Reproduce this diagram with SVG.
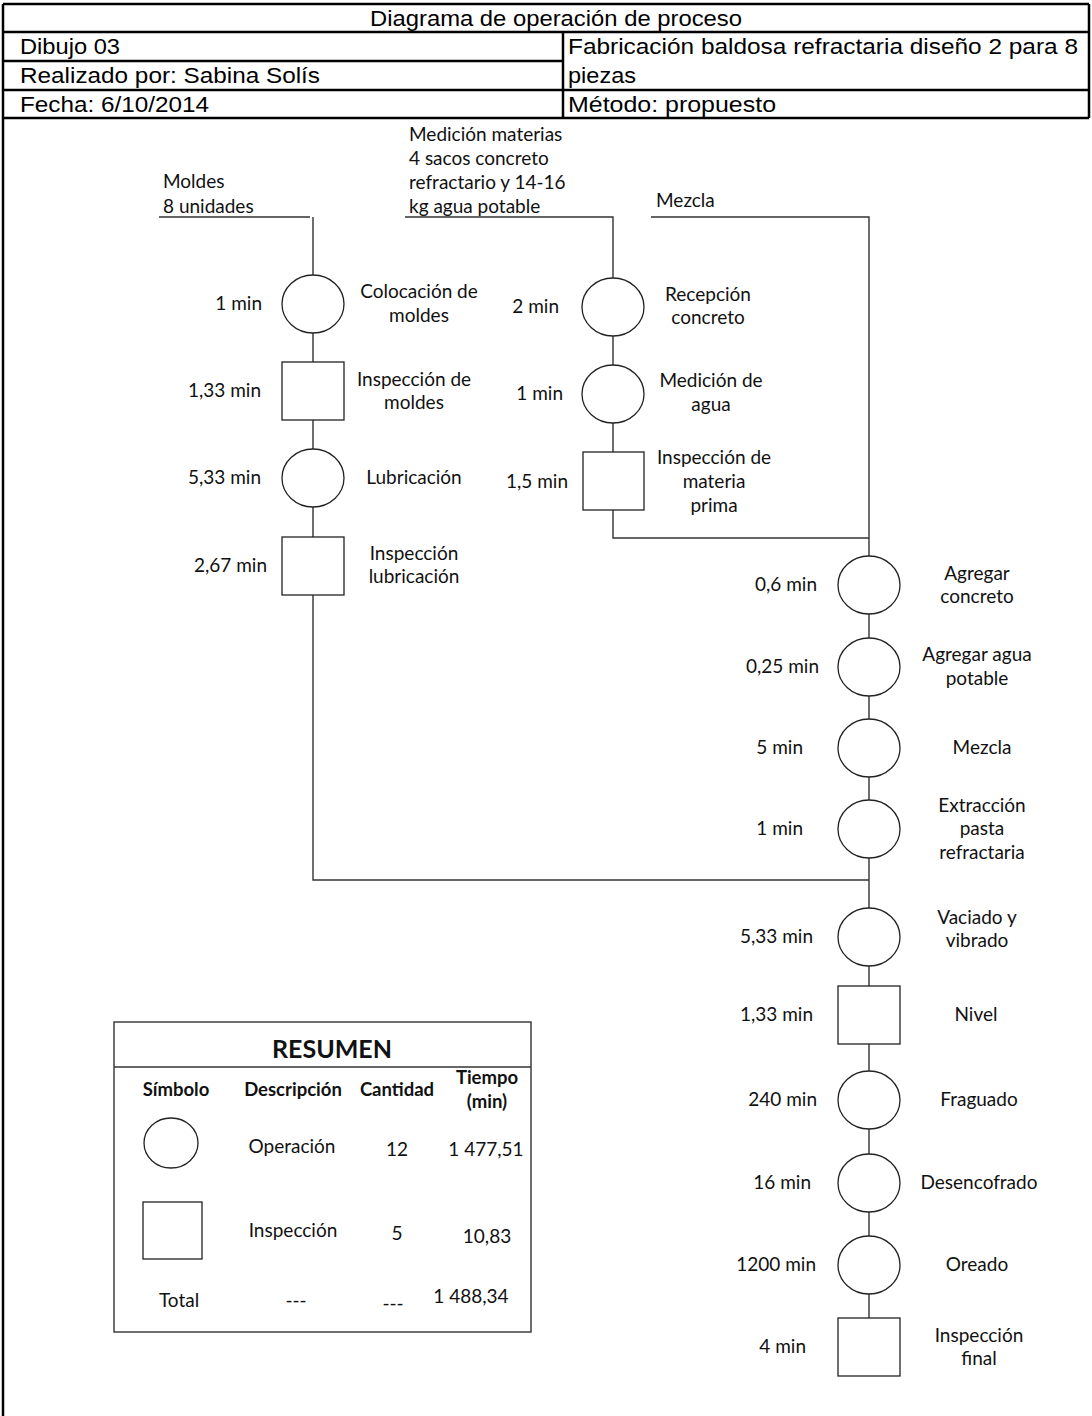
<svg xmlns="http://www.w3.org/2000/svg" width="1092" height="1416" viewBox="0 0 1092 1416">
<style>
.hdr{font-family:"Liberation Sans",Arial,sans-serif;font-size:22.5px;fill:#000}
.lbl{font-family:Lato,"Open Sans",sans-serif;font-size:19px;fill:#111}
.c{text-anchor:middle}
.e{text-anchor:end}
.b{font-weight:bold}
.tb{stroke:#000;stroke-width:2.5;fill:none}
.conn{stroke:#333;stroke-width:1.4;fill:none}
.sh{stroke:#222;stroke-width:1.3;fill:#fff}
</style>
<rect width="1092" height="1416" fill="#fff"/>
<g id="header">
<path class="tb" d="M3,4 H1089 M3,32 H1089 M3,61 H563 M3,90 H1089 M3,118 H1089 M3,4 V1416 M1089,4 V118 M563,32 V118"/>
<text class="hdr" x="370" y="26" textLength="372" lengthAdjust="spacingAndGlyphs">Diagrama de operación de proceso</text>
<text class="hdr" x="20" y="54" textLength="100" lengthAdjust="spacingAndGlyphs">Dibujo 03</text>
<text class="hdr" x="20" y="83" textLength="300" lengthAdjust="spacingAndGlyphs">Realizado por: Sabina Solís</text>
<text class="hdr" x="20" y="112" textLength="189" lengthAdjust="spacingAndGlyphs">Fecha: 6/10/2014</text>
<text class="hdr" x="568" y="54" textLength="510" lengthAdjust="spacingAndGlyphs">Fabricación baldosa refractaria diseño 2 para 8</text>
<text class="hdr" x="568" y="83" textLength="68" lengthAdjust="spacingAndGlyphs">piezas</text>
<text class="hdr" x="568" y="112" textLength="208" lengthAdjust="spacingAndGlyphs">Método: propuesto</text>
</g>
<g id="connectors">
<path class="conn" d="M159,217 H310 M313,217 V880 H869"/>
<path class="conn" d="M405,217 H613 V538 H869"/>
<path class="conn" d="M651,217 H869 V1318"/>
</g>
<g id="input-moldes">
<text class="lbl" x="163" y="188">Moldes</text>
<text class="lbl" x="163" y="213">8 unidades</text>
</g>
<g id="input-materias">
<text class="lbl" x="409" y="141">Medición materias</text>
<text class="lbl" x="409" y="165">4 sacos concreto</text>
<text class="lbl" x="409" y="189">refractario y 14-16</text>
<text class="lbl" x="409" y="213">kg agua potable</text>
</g>
<g id="input-mezcla">
<text class="lbl" x="656" y="207">Mezcla</text>
</g>
<g id="colocacion">
<ellipse class="sh" cx="313" cy="304" rx="31" ry="29"/>
<text class="lbl e" x="262" y="310">1 min</text>
<text class="lbl c" x="419" y="298">Colocación de</text>
<text class="lbl c" x="419" y="322">moldes</text>
</g>
<g id="insp-moldes">
<rect class="sh" x="282" y="362" width="62" height="58"/>
<text class="lbl e" x="261" y="397">1,33 min</text>
<text class="lbl c" x="414" y="386">Inspección de</text>
<text class="lbl c" x="414" y="409">moldes</text>
</g>
<g id="lubricacion">
<ellipse class="sh" cx="313" cy="478" rx="31" ry="29"/>
<text class="lbl e" x="261" y="484">5,33 min</text>
<text class="lbl c" x="414" y="484">Lubricación</text>
</g>
<g id="insp-lubricacion">
<rect class="sh" x="282" y="537" width="62" height="58"/>
<text class="lbl e" x="267" y="572">2,67 min</text>
<text class="lbl c" x="414" y="560">Inspección</text>
<text class="lbl c" x="414" y="583">lubricación</text>
</g>
<g id="recepcion">
<ellipse class="sh" cx="613" cy="307" rx="31" ry="29"/>
<text class="lbl e" x="559" y="313">2 min</text>
<text class="lbl c" x="708" y="301">Recepción</text>
<text class="lbl c" x="708" y="324">concreto</text>
</g>
<g id="medicion-agua">
<ellipse class="sh" cx="613" cy="394" rx="31" ry="29"/>
<text class="lbl e" x="563" y="400">1 min</text>
<text class="lbl c" x="711" y="387">Medición de</text>
<text class="lbl c" x="711" y="411">agua</text>
</g>
<g id="insp-materia">
<rect class="sh" x="583" y="452" width="61" height="58"/>
<text class="lbl e" x="568" y="488">1,5 min</text>
<text class="lbl c" x="714" y="464">Inspección de</text>
<text class="lbl c" x="714" y="488">materia</text>
<text class="lbl c" x="714" y="512">prima</text>
</g>
<g id="agregar-concreto">
<ellipse class="sh" cx="869" cy="585" rx="31" ry="29"/>
<text class="lbl e" x="817" y="591">0,6 min</text>
<text class="lbl c" x="977" y="580">Agregar</text>
<text class="lbl c" x="977" y="603">concreto</text>
</g>
<g id="agregar-agua">
<ellipse class="sh" cx="869" cy="667" rx="31" ry="29"/>
<text class="lbl e" x="819" y="673">0,25 min</text>
<text class="lbl c" x="977" y="661">Agregar agua</text>
<text class="lbl c" x="977" y="685">potable</text>
</g>
<g id="mezcla">
<ellipse class="sh" cx="869" cy="748" rx="31" ry="29"/>
<text class="lbl e" x="803" y="754">5 min</text>
<text class="lbl c" x="982" y="754">Mezcla</text>
</g>
<g id="extraccion">
<ellipse class="sh" cx="869" cy="829" rx="31" ry="29"/>
<text class="lbl e" x="803" y="835">1 min</text>
<text class="lbl c" x="982" y="812">Extracción</text>
<text class="lbl c" x="982" y="835">pasta</text>
<text class="lbl c" x="982" y="859">refractaria</text>
</g>
<g id="vaciado">
<ellipse class="sh" cx="869" cy="937" rx="31" ry="29"/>
<text class="lbl e" x="813" y="943">5,33 min</text>
<text class="lbl c" x="977" y="924">Vaciado y</text>
<text class="lbl c" x="977" y="947">vibrado</text>
</g>
<g id="nivel">
<rect class="sh" x="838" y="986" width="62" height="58"/>
<text class="lbl e" x="813" y="1021">1,33 min</text>
<text class="lbl c" x="976" y="1021">Nivel</text>
</g>
<g id="fraguado">
<ellipse class="sh" cx="869" cy="1100" rx="31" ry="29"/>
<text class="lbl e" x="817" y="1106">240 min</text>
<text class="lbl c" x="979" y="1106">Fraguado</text>
</g>
<g id="desencofrado">
<ellipse class="sh" cx="869" cy="1183" rx="31" ry="29"/>
<text class="lbl e" x="811" y="1189">16 min</text>
<text class="lbl c" x="979" y="1189">Desencofrado</text>
</g>
<g id="oreado">
<ellipse class="sh" cx="869" cy="1265" rx="31" ry="29"/>
<text class="lbl e" x="816" y="1271">1200 min</text>
<text class="lbl c" x="977" y="1271">Oreado</text>
</g>
<g id="insp-final">
<rect class="sh" x="838" y="1318" width="62" height="58"/>
<text class="lbl e" x="806" y="1353">4 min</text>
<text class="lbl c" x="979" y="1342">Inspección</text>
<text class="lbl c" x="979" y="1365">final</text>
</g>
<g id="resumen">
<rect x="114" y="1022" width="417" height="310" fill="none" stroke="#333" stroke-width="1.4"/>
<line x1="114" y1="1067" x2="531" y2="1067" stroke="#333" stroke-width="1.4"/>
<text class="lbl c b" x="332" y="1058" style="font-size:25px">RESUMEN</text>
<text class="lbl c b" x="176" y="1096" style="font-size:18.5px">Símbolo</text>
<text class="lbl c b" x="293" y="1096" style="font-size:18.5px">Descripción</text>
<text class="lbl c b" x="397" y="1096" style="font-size:18.5px">Cantidad</text>
<text class="lbl c b" x="487" y="1084" style="font-size:18.5px">Tiempo</text>
<text class="lbl c b" x="487" y="1108" style="font-size:18.5px">(min)</text>
<ellipse class="sh" cx="171" cy="1143" rx="27" ry="25"/>
<text class="lbl c" x="292" y="1153">Operación</text>
<text class="lbl c" x="397" y="1156">12</text>
<text class="lbl c" x="486" y="1156">1 477,51</text>
<rect class="sh" x="143" y="1202" width="59" height="57"/>
<text class="lbl c" x="293" y="1237">Inspección</text>
<text class="lbl c" x="397" y="1240">5</text>
<text class="lbl c" x="487" y="1243">10,83</text>
<text class="lbl c" x="179" y="1307">Total</text>
<text class="lbl c" x="296" y="1307">---</text>
<text class="lbl c" x="393" y="1310">---</text>
<text class="lbl c" x="471" y="1303">1 488,34</text>
</g>
</svg>
